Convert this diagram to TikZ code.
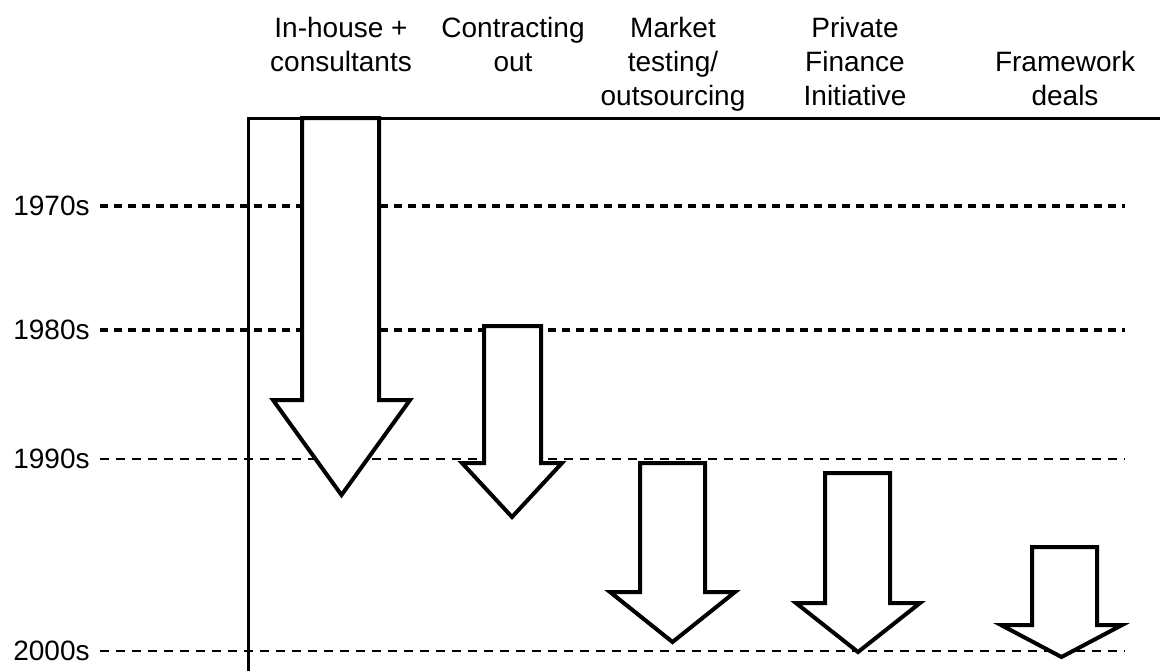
\documentclass[tikz,border=0pt]{standalone}
\usepackage{fontspec}
\setmainfont{Liberation Sans}
\begin{document}
\begin{tikzpicture}[x=0.5pt, y=-0.5pt, font=\fontsize{14}{17}\selectfont,
    thickdash/.style={line width=2pt, dash pattern=on 4pt off 3pt},
    thindash/.style={line width=1.3pt, dash pattern=on 4.5pt off 3.5pt},
    blockarrow/.style={draw, fill=white, line width=2pt, line join=miter},
    head/.style={align=center, anchor=north, inner sep=0pt},
    year/.style={anchor=east, inner sep=0pt}]
    \useasboundingbox (0,0) rectangle (1160,671);

    % Column headings
    \node[head] (inhouse) at (341,17) {In-house +\\consultants};
    \node[head] (contract) at (513,17) {Contracting\\out};
    \node[head] (market) at (673,17) {Market\\testing/\\outsourcing};
    \node[head] (pfi) at (855,17) {Private\\Finance\\Initiative};
    \node[head] (framework) at (1065,51) {Framework\\deals};

    % Decades and their dashed lines
    \node[year] (y1970) at (90,206) {1970s};
    \node[year] (y1980) at (90,330) {1980s};
    \node[year] (y1990) at (90,459) {1990s};
    \node[year] (y2000) at (90,651) {2000s};
    \foreach \d/\s in {1970/thickdash, 1980/thickdash, 1990/thindash, 2000/thindash} {
        \coordinate (e\d) at (1125,0 |- y\d.east);
        \draw[\s] ([xshift=5pt]y\d.east) -- (e\d);
    }

    % Frame
    \draw[line width=1.5pt] (248,671) -- (248,118) -- (1160,118);

    % Block arrows
    \foreach \xl/\xr/\top/\hb/\hl/\hr/\tip in {302/379/118/400/273/410/495,
            484/541/326/463/462/562/517, 640/705/463/592/610/735/642,
            825/890/473/603/796/920/652, 1032/1097/547/625/1001/1122/657} {
        \draw[blockarrow] (\xl,\top) -- (\xr,\top) -- (\xr,\hb) -- (\hr,\hb)
            -- ({(\hl+\hr)/2},\tip) -- (\hl,\hb) -- (\xl,\hb) -- cycle;
    }
\end{tikzpicture}
\end{document}
